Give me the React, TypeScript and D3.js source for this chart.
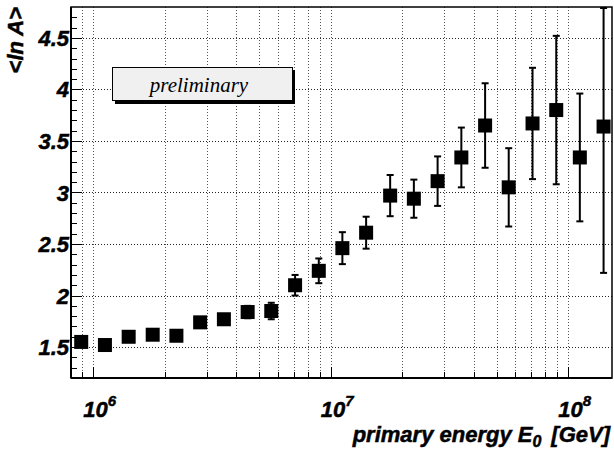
import React from "react";
import * as d3 from "d3";

const energies = [
  8.9e5, 1.12e6, 1.41e6, 1.78e6, 2.24e6, 2.82e6, 3.55e6, 4.47e6, 5.62e6, 7.08e6,
  8.91e6, 1.12e7, 1.41e7, 1.78e7, 2.24e7, 2.82e7, 3.55e7, 4.47e7, 5.62e7, 7.08e7,
  8.91e7, 1.12e8, 1.41e8,
];
const lnA = [
  1.55, 1.52, 1.6, 1.62, 1.61, 1.74, 1.77, 1.84, 1.85, 2.1,
  2.24, 2.46, 2.61, 2.97, 2.94, 3.11, 3.34, 3.65, 3.05, 3.67,
  3.8, 3.34, 3.64,
];
const lnAErr = [
  0.03, 0.03, 0.03, 0.04, 0.04, 0.04, 0.05, 0.06, 0.08, 0.1,
  0.12, 0.155, 0.155, 0.2, 0.185, 0.24, 0.29, 0.41, 0.38, 0.54,
  0.72, 0.62, 1.42,
];
const yMajorTicks = [1.5, 2, 2.5, 3, 3.5, 4, 4.5];
const yTickLabels = ["1.5", "2", "2.5", "3", "3.5", "4", "4.5"];
const xMajorTicks = [1e6, 1e7, 1e8];
const xTickExponents = ["6", "7", "8"];
const xDomain = [8.06e5, 1.53e8];
const yDomain = [1.2, 4.8];

const W = 614;
const H = 453;
const L = 71, T = 7, R = 612, B = 378;

export default function App() {
  const x = d3.scaleLog().domain(xDomain).range([L, R]);
  const y = d3.scaleLinear().domain(yDomain).range([B, T]);

  const xAll: number[] = [];
  for (let e = 5; e <= 8; e++) {
    for (let m = 1; m <= 9; m++) {
      const v = m * Math.pow(10, e);
      if (v > xDomain[0] && v < xDomain[1]) xAll.push(v);
    }
  }
  const isMajorX = (v: number) => xMajorTicks.some((t) => Math.abs(t - v) / t < 1e-6);

  const yMinor: number[] = d3.range(12, 49).map((d) => d / 10).filter((v) => v > yDomain[0] && v < yDomain[1]);

  const sansBI = {
    fontFamily: "'Liberation Sans', Arial, sans-serif",
    fontWeight: "bold" as const,
    fontStyle: "italic" as const,
    stroke: "#000",
    strokeWidth: 0.5,
  };

  const ms = 14;
  const cap = 7;

  return (
    <svg
      width={W}
      height={H}
      style={{ position: "absolute", left: 0, top: 0, background: "#fff" }}
    >
      <rect x={0} y={0} width={W} height={H} fill="#fff" />
      <g>
        {xAll.map((v, i) => {
          const xx = Math.round(x(v)) + 0.5;
          return (
            <line key={"gx" + i} x1={xx} x2={xx} y1={T} y2={B} stroke="#555" strokeWidth={1} strokeDasharray="1,2" />
          );
        })}
        {yMajorTicks.map((v, i) => {
          const yy = Math.round(y(v)) + 0.5;
          return (
            <line key={"gy" + i} x1={L} x2={R} y1={yy} y2={yy} stroke="#222" strokeWidth={1} strokeDasharray="1,2" />
          );
        })}
      </g>

      <rect x={115} y={70} width={180} height={34} fill="#000" />
      <rect x={112.5} y={67.5} width={180} height={33} fill="#f0f0f0" stroke="#000" strokeWidth={1} />
      <text
        x={199}
        y={92}
        textAnchor="middle"
        fontFamily="'Liberation Serif', 'Times New Roman', serif"
        fontStyle="italic"
        fontSize={21}
        fill="#000"
      >
        preliminary
      </text>

      <g>
        {energies.map((e, i) => {
          const cx = x(e);
          const v = lnA[i];
          const err = lnAErr[i];
          const yt = Math.max(T + 1, y(v + err));
          const yb = Math.min(B - 1, y(v - err));
          return (
            <g key={"p" + i}>
              <line x1={cx} x2={cx} y1={yt} y2={yb} stroke="#000" strokeWidth={2} />
              <line x1={cx - cap / 2} x2={cx + cap / 2} y1={yt} y2={yt} stroke="#000" strokeWidth={2} />
              <line x1={cx - cap / 2} x2={cx + cap / 2} y1={yb} y2={yb} stroke="#000" strokeWidth={2} />
              <rect x={cx - ms / 2} y={y(v) - ms / 2} width={ms} height={ms} fill="#000" />
            </g>
          );
        })}
      </g>

      <rect x={L} y={T} width={R - L} height={B - T} fill="none" stroke="#000" strokeWidth={1.5} />
      <line x1={L} x2={L} y1={T} y2={B} stroke="#000" strokeWidth={2} />
      <line x1={L} x2={R} y1={B} y2={B} stroke="#000" strokeWidth={2} />

      {yMinor.map((v, i) => {
        const major = yMajorTicks.some((t) => Math.abs(t - v) < 1e-6);
        const yy = Math.round(y(v)) + 0.5;
        return (
          <line key={"yt" + i} x1={L} x2={L + (major ? 11 : 6)} y1={yy} y2={yy} stroke="#000" strokeWidth={1} />
        );
      })}
      {yMajorTicks.map((v, i) => (
        <text key={"yl" + i} x={69} y={y(v) + 8} textAnchor="end" fontSize={22} fill="#000" {...sansBI}>
          {yTickLabels[i]}
        </text>
      ))}

      {xAll.map((v, i) => {
        const xx = Math.round(x(v)) + 0.5;
        const major = isMajorX(v);
        return (
          <line key={"xt" + i} x1={xx} x2={xx} y1={B} y2={B - (major ? 11 : 6)} stroke="#000" strokeWidth={1} />
        );
      })}
      {xMajorTicks.map((v, i) => (
        <text key={"xl" + i} x={x(v) - 10} y={417} fontSize={22} fill="#000" {...sansBI}>
          10
          <tspan dy={-11} fontSize={15}>
            {xTickExponents[i]}
          </tspan>
        </text>
      ))}

      <text x={610} y={442} textAnchor="end" fontSize={22} fill="#000" {...sansBI}>
        primary energy E
        <tspan dy={5} fontSize={16}>0</tspan>
        <tspan dy={-5} dx={10}>[GeV]</tspan>
      </text>
      <text transform={`translate(23, 7) rotate(-90)`} textAnchor="end" fontSize={22} fill="#000" {...sansBI}>
        {"<ln A>"}
      </text>
    </svg>
  );
}
